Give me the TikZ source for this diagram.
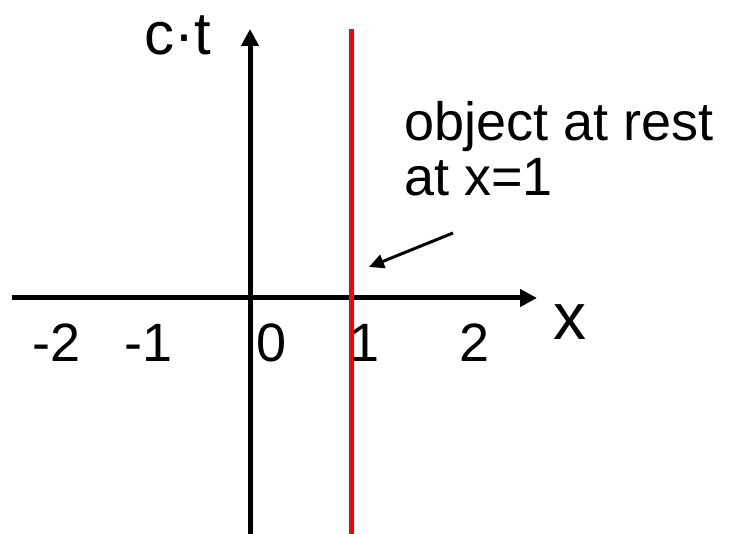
\documentclass[tikz,border=0pt]{standalone}
\usepackage{fontspec}
\setmainfont{Liberation Sans}
\usetikzlibrary{arrows.meta}

\tikzset{
  axis/.style={line width=5pt, -{Triangle[length=17pt,width=17pt]}},
  worldline/.style={line width=5pt, red},
  pointer/.style={line width=3pt, -{Triangle[length=15pt,width=14pt]}},
  numlabel/.style={anchor=base, inner sep=0pt, font=\fontsize{54}{55}\selectfont}
}

\begin{document}
\begin{tikzpicture}[x=1pt,y=-1pt]
    \useasboundingbox (0,0) rectangle (736,534);

    % Define coordinates
    \coordinate (xstart) at (12,298);
    \coordinate (xend) at (537,298);
    \coordinate (tstart) at (250,534);
    \coordinate (tend) at (250,29);
    \coordinate (redtop) at (351,29);
    \coordinate (redbottom) at (351,534);

    % Draw the axes
    \draw[axis] (xstart) -- (xend);
    \draw[axis] (tstart) -- (tend);

    % Object at rest
    \draw[worldline] (redbottom) -- (redtop);

    % Axis labels
    \node[numlabel, font=\fontsize{66}{66}\selectfont] (xlabel) at (570,340) {x};
    \node[numlabel, font=\fontsize{60}{60}\selectfont] (ctlabel) at (178,55) {c·t};

    % Tick numbers
    \node[numlabel] (m2) at (57,362) {-2};
    \node[numlabel] (m1) at (149,362) {-1};
    \node[numlabel] (n0) at (272,362) {0};
    \node[numlabel] (n1) at (365,362) {1};
    \node[numlabel] (n2) at (475,362) {2};

    % Annotation
    \node[anchor=north west, inner sep=0pt, align=left,
          font=\fontsize{54}{55}\selectfont] (note) at (404,101)
          {object at rest\\at x=1};
    \coordinate (notefoot) at (453,233);
    \coordinate (hit) at (369,267);
    \draw[pointer] (notefoot) -- (hit);

\end{tikzpicture}
\end{document}
